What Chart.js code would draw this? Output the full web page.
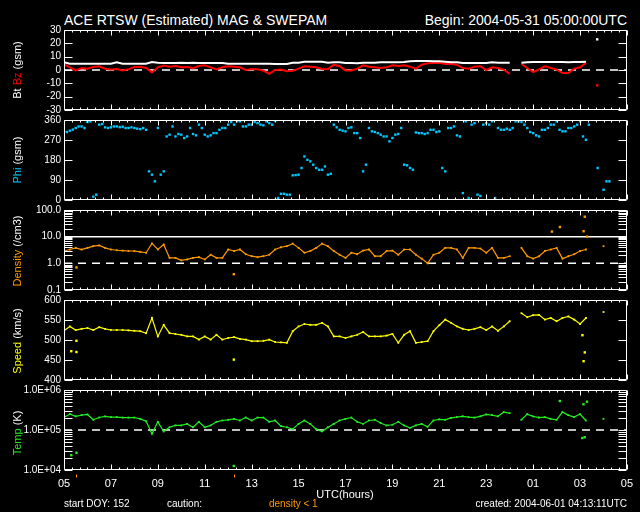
<!DOCTYPE html>
<html>
<head>
<meta charset="utf-8">
<script src="https://cdn.jsdelivr.net/npm/chart.js@4.4.1/dist/chart.umd.min.js"></script>
<style>
  body { margin: 0; background: #000; width: 640px; height: 512px; overflow: hidden; position: relative; font-family: "Liberation Sans", sans-serif; color: #fff; }
  canvas { position: absolute; left: 0; }
  .txt { position: absolute; white-space: nowrap; line-height: 1; }
  .ytitle { position: absolute; left: 17px; white-space: nowrap; font-size: 11px; line-height: 1; transform: translate(-50%, -50%) rotate(-90deg); }
</style>
</head>
<body>
<div class="txt" style="left:64px;top:13px;font-size:14px">ACE RTSW (Estimated) MAG &amp; SWEPAM</div>
<div class="txt" style="right:13px;top:13px;font-size:14px">Begin: 2004-05-31 05:00:00UTC</div>

<canvas id="pMag" width="640" height="100" style="top:20px"></canvas>
<canvas id="pPhi" width="640" height="100" style="top:110px"></canvas>
<canvas id="pDens" width="640" height="100" style="top:200px"></canvas>
<canvas id="pSpeed" width="640" height="100" style="top:290px"></canvas>
<canvas id="pTemp" width="640" height="110" style="top:380px"></canvas>

<div class="ytitle" style="top:70px">Bt <span style="color:#ff0000">Bz</span> (gsm)</div>
<div class="ytitle" style="top:160px"><span style="color:#00c8ff">Phi</span> (gsm)</div>
<div class="ytitle" style="top:251px"><span style="color:#ff9a00">Density</span> (/cm3)</div>
<div class="ytitle" style="top:341px"><span style="color:#ffff00">Speed</span> (km/s)</div>
<div class="ytitle" style="top:433px"><span style="color:#22ee22">Temp</span> (K)</div>

<div class="txt" style="left:345px;top:489px;font-size:11px;transform:translateX(-50%)">UTC(hours)</div>
<div class="txt" style="left:64px;top:499px;font-size:10px">start DOY: 152</div>
<div class="txt" style="left:167px;top:499px;font-size:10px">caution:</div>
<div class="txt" style="left:269px;top:499px;font-size:10px;color:#ff9a00">density &lt; 1</div>
<div class="txt" style="right:13px;top:499px;font-size:10px">created: 2004-06-01 04:13:11UTC</div>

<script>
// hours after 2004-05-31 05:00 UTC, one reading every 15 minutes
const hours = [
  0, 0.25, 0.5, 0.75, 1, 1.25, 1.5, 1.75, 2, 2.25, 2.5, 2.75,
  3, 3.25, 3.5, 3.75, 4, 4.25, 4.5, 4.75, 5, 5.25, 5.5, 5.75,
  6, 6.25, 6.5, 6.75, 7, 7.25, 7.5, 7.75, 8, 8.25, 8.5, 8.75,
  9, 9.25, 9.5, 9.75, 10, 10.25, 10.5, 10.75, 11, 11.25, 11.5, 11.75,
  12, 12.25, 12.5, 12.75, 13, 13.25, 13.5, 13.75, 14, 14.25, 14.5, 14.75,
  15, 15.25, 15.5, 15.75, 16, 16.25, 16.5, 16.75, 17, 17.25, 17.5, 17.75,
  18, 18.25, 18.5, 18.75, 19, 19.25, 19.5, 19.75, 20, 20.25, 20.5, 20.75,
  21, 21.25, 21.5, 21.75, 22, 22.25, 22.5, 22.75, 23, 23.25, 23.5, 23.75,
  24
];
// in-between readings (7.5 minutes later) used for the scattered phi panel
const hoursMid = [
  0.125, 0.375, 0.625, 0.875, 1.125, 1.375, 1.625, 1.875, 2.125, 2.375, 2.625, 2.875,
  3.125, 3.375, 3.625, 3.875, 4.125, 4.375, 4.625, 4.875, 5.125, 5.375, 5.625, 5.875,
  6.125, 6.375, 6.625, 6.875, 7.125, 7.375, 7.625, 7.875, 8.125, 8.375, 8.625, 8.875,
  9.125, 9.375, 9.625, 9.875, 10.125, 10.375, 10.625, 10.875, 11.125, 11.375, 11.625, 11.875,
  12.125, 12.375, 12.625, 12.875, 13.125, 13.375, 13.625, 13.875, 14.125, 14.375, 14.625, 14.875,
  15.125, 15.375, 15.625, 15.875, 16.125, 16.375, 16.625, 16.875, 17.125, 17.375, 17.625, 17.875,
  18.125, 18.375, 18.625, 18.875, 19.125, 19.375, 19.625, 19.875, 20.125, 20.375, 20.625, 20.875,
  21.125, 21.375, 21.625, 21.875, 22.125, 22.375, 22.625, 22.875, 23.125, 23.375, 23.625, 23.875
];

// nT
const bt = [
  5.75, 4.75, 4.75, 4.75, 4.75, 4.75, 4.75, 4.75, 4.75, 5.75, 4.75, 4.75,
  4.75, 4.75, 4.75, 6.0, 5.5, 5.25, 5.25, 5.25, 5.5, 5.25, 5.5, 5.25,
  5.25, 5.25, 5.25, 5.25, 4.75, 4.75, 4.75, 4.75, 4.75, 4.75, 4.75, 4.75,
  4.5, 4.5, 4.5, 5.5, 5.5, 6.25, 6.25, 6.25, 6.25, 5.5, 5.75, 5.75,
  5.25, 5.25, 5.0, 5.5, 5.5, 5.5, 5.75, 5.75, 5.75, 5.75, 6.0, 6.5,
  6.75, 6.75, 6.75, 6.5, 6.5, 6.25, 5.75, 5.75, 5.25, 5.25, 5.25, 5.25,
  5.25, 5.75, 5.5, 5.5, 5.5, null, 5.5, 5.75, 6.0, 6.0, 6.0, 6.0,
  6.0, 6.0, 5.75, 6.0, 6.0, 6.25, null, null, 5.75, null, null, null,
  null
];
const bz = [
  4.5, 2.0, -0.3, 1.5, 1.0, 2.3, 2.8, 1.0, 0.3, 0.8, -0.3, 0.5,
  2.3, 2.5, 1.5, -1.8, 2.0, 3.3, 2.5, 3.0, 2.0, 2.3, 1.3, 3.0,
  3.5, 2.0, 0.5, 2.0, 2.8, 2.5, 2.0, 0.0, 0.8, 0.5, -0.5, -2.8,
  0.0, 0.3, -1.0, -0.5, 1.0, 2.8, 2.5, 2.0, 0.8, 0.5, 4.0, 2.8,
  -0.3, -0.3, 1.0, 3.5, 2.5, 2.0, 1.5, 2.0, 3.5, 3.0, 3.5, 2.5,
  1.0, 4.0, 5.0, 5.3, 5.5, 4.5, 4.5, 4.0, 1.5, 1.0, 2.5, 2.8,
  0.0, 2.0, 1.5, 0.3, -3.0, null, 4.5, 1.5, -1.5, 0.5, 2.8, 1.5,
  0.3, -2.3, -2.3, 1.0, 2.0, 5.5, null, null, 5.3, null, null, null,
  null
];
// degrees
const phi = [
  309, 312, 324, 331, 351, 15, 339, 327, 327, 331, 330, 324,
  324, 319, 316, 114, 324, 129, 294, 286, 294, 286, 297, 339,
  294, 291, 301, 324, 339, 339, 354, 331, 339, 346, 336, 346,
  357, 28, 24, 111, 114, 196, 174, 144, 136, 114, 339, 316,
  309, 327, 301, 129, 324, 306, 294, 286, 279, 297, 159, 144,
  304, 301, 301, 316, 309, 129, 324, 291, 31, 9, 346, 18,
  346, 354, 324, 316, 316, 354, 351, 324, 301, 286, 316, 339,
  354, 309, 324, 331, 354, 271, null, 144, 46, 84, null, null,
  null
];
const phiMid = [
  306, 317, 331, 324, 354, 24, 342, 324, 331, 328, 324, 327,
  321, 324, 129, 84, 114, 286, 331, 297, 279, 324, 291, 324,
  286, 301, 316, 324, 351, 354, 331, 339, 351, 339, 354, 339,
  9, 28, 24, 112, 144, 181, 159, 136, 151, 118, 327, 312,
  324, 301, 279, 159, 309, 301, 286, 264, 294, 324, 156, 136,
  301, 297, 316, 306, 144, 324, 331, 286, 354, 339, 24, 339,
  339, 9, 316, 321, 324, 354, 339, 306, 291, 316, 324, 339,
  316, 309, 324, 339, 286, 339, null, null, 84, null, null, null
];
// p/cm3
const density = [
  2.9, 3.3, 3.8, 3.3, 3.8, 4.4, 4.7, 3.8, 3.3, 3.1, 3.0, 2.9,
  2.9, 2.7, 2.5, 5.6, 3.3, 5.1, 1.6, 1.6, 1.3, 1.4, 1.6, 1.7,
  1.4, 2.1, 1.6, 1.6, 3.3, 2.9, 3.3, 2.2, 1.85, 1.7, 1.85, 2.1,
  3.3, 4.0, 4.4, 5.5, 3.8, 2.5, 2.9, 3.8, 5.5, 4.4, 2.9, 2.1,
  1.6, 2.5, 2.2, 3.0, 3.3, 1.85, 1.85, 2.9, 3.0, 2.1, 3.3, 3.3,
  2.1, 1.5, 1.0, 2.1, 2.5, 3.8, 3.8, 3.3, 1.6, 3.8, 3.8, 3.6,
  2.5, 3.8, 1.6, 1.6, 1.85, null, 3.8, 1.85, 1.5, 1.85, 2.9, 3.3,
  3.8, 1.5, 1.85, 2.2, 2.9, 3.3, null, null, 4.4, null, null, null,
  null
];
// km/s
const speed = [
  523, 534, 525, 528, 530, 525, 532, 528, 525, 525, 525, 524,
  523, 522, 517, 555, 509, 538, 517, 515, 513, 509, 509, 501,
  509, 501, 513, 501, 505, 507, 503, 501, 497, 497, 498, 501,
  495, 494, 493, 522, 534, 540, 538, 538, 543, 534, 509, 509,
  505, 509, 513, 520, 509, 509, 509, 511, 515, 493, 513, 522,
  493, 495, 497, 522, 537, 551, 543, 534, 528, 525, 528, 532,
  525, 534, 523, 534, 547, null, 567, 557, 562, 563, 551, 555,
  547, 555, 559, 551, 540, 555, null, null, 570, null, null, null,
  null
];
// K
const temp = [
  2.05e5, 2.5e5, 2.2e5, 2.35e5, 2.45e5, 1.8e5, 2.05e5, 2.2e5, 2.1e5, 2.1e5, 2.05e5, 2.05e5,
  2.05e5, 1.9e5, 1.65e5, 8.0e4, 1.6e5, 9.2e4, 1.17e5, 1.3e5, 1.3e5, 1.42e5, 1.17e5, 1.6e5,
  1.17e5, 1.3e5, 1.6e5, 1.73e5, 1.8e5, 1.9e5, 1.73e5, 2.05e5, 1.73e5, 2.05e5, 2.05e5, 1.6e5,
  1.73e5, 1.25e5, 1.17e5, 1.05e5, 1.42e5, 1.73e5, 1.42e5, 1.05e5, 9.2e4, 1.17e5, 1.42e5, 1.73e5,
  1.9e5, 2.05e5, 1.6e5, 1.42e5, 1.73e5, 1.8e5, 1.5e5, 1.3e5, 1.35e5, 1.6e5, 1.3e5, 1.13e5,
  1.3e5, 1.42e5, 1.2e5, 1.73e5, 1.85e5, 1.8e5, 2.0e5, 2.1e5, 2.2e5, 2.1e5, 2.05e5, 2.2e5,
  2.45e5, 2.35e5, 2.2e5, 2.8e5, 2.65e5, null, 1.8e5, 2.5e5, 2.2e5, 2.05e5, 2.1e5, 1.9e5,
  1.8e5, 2.8e5, 2.35e5, 2.1e5, 2.5e5, 1.73e5, null, null, 1.9e5, null, null, null,
  null
];

// isolated readings away from the main track
const btSpikeHours = [22.73];
const btSpikeValues = [23];
const bzSpikeHours = [22.73];
const bzSpikeValues = [-11.5];
const densSpikeHours = [0.53, 7.24, 20.8, 21.14, 22.15, 22.2, 22.3];
const densSpikeValues = [0.7, 0.39, 15.5, 23, 16, 56, 10];
const speedSpikeHours = [0.31, 0.53, 0.53, 7.24, 22.1, 22.15, 22.2];
const speedSpikeValues = [472, 470, 498, 451, 512, 447, 469];
const tempSpikeHours = [0.31, 0.53, 7.24, 21.14, 22.1, 22.15, 22.2, 22.3];
const tempSpikeValues = [2.35e4, 2.7e4, 1.26e4, 5.3e5, 6.3e4, 4.4e5, 6.6e4, 5.1e5];

// axes
const xTickHours = [0, 2, 4, 6, 8, 10, 12, 14, 16, 18, 20, 22, 24];
const xTickLabels = ["05", "07", "09", "11", "13", "15", "17", "19", "21", "23", "01", "03", "05"];
const magTicks = [-30, -20, -10, 0, 10, 20, 30];
const phiTicks = [0, 90, 180, 270, 360];
const densTicks = [0.1, 1, 10, 100];
const densTickLabels = ["0.1", "1.0", "10.0", "100.0"];
const speedTicks = [400, 450, 500, 550, 600];
const tempTicks = [1e4, 1e5, 1e6];
const tempTickLabels = ["1.0E+04", "1.0E+05", "1.0E+06"];

// reference lines
const magDashed = 0;
const densSolid = 10;
const densDashed = 1;
const tempDashed = 1e5;

const FONT = "Liberation Sans";

function series(vals, hs) {
  return (hs || hours).map((h, i) => ({ x: h, y: vals[i] }));
}
function spikes(hs, vs) {
  return hs.map((h, i) => ({ x: h, y: vs[i] }));
}
function dots(data, color) {
  return { data: data, backgroundColor: color, borderWidth: 0, pointRadius: 1.7, pointStyle: "rect", order: 1 };
}
function trace(data, color, width, radius) {
  return {
    data: data, borderColor: color, backgroundColor: color, borderWidth: width,
    showLine: true, spanGaps: false, pointRadius: radius || 0, pointStyle: "rect", pointBorderWidth: 0, order: 1
  };
}
function refLine(v, dashed) {
  return {
    data: [{ x: 0, y: v }, { x: 24, y: v }],
    borderColor: "#fff", borderWidth: 1.5, borderDash: dashed ? [8, 6] : [],
    showLine: true, pointRadius: 0, order: 5
  };
}
function logMinor(ticks) {
  const out = [];
  for (let i = 0; i < ticks.length - 1; i++) {
    for (let m = 2; m <= 9; m++) out.push(ticks[i] * m);
  }
  return out;
}

// IDL style box: inward ticks on all four sides
const idlFrame = {
  id: "idlFrame",
  afterDatasetsDraw(chart, args, opts) {
    const { ctx, chartArea: a } = chart;
    const xs = chart.scales.x, ys = chart.scales.y;
    const L = Math.round(a.left) + 0.5, R = Math.round(a.right) - 0.5;
    const T = Math.round(a.top) + 0.5, B = Math.round(a.bottom) - 0.5;
    ctx.save();
    ctx.strokeStyle = "#fff";
    ctx.lineWidth = 1;
    ctx.beginPath();
    ctx.rect(L, T, R - L, B - T);
    for (let k = 0; k <= 72; k++) {
      const px = Math.round(xs.getPixelForValue(k / 3)) + 0.5;
      const len = k % 6 === 0 ? 5 : 2;
      ctx.moveTo(px, T); ctx.lineTo(px, T + len);
      ctx.moveTo(px, B); ctx.lineTo(px, B - len);
    }
    opts.yTicks.concat(opts.yMinor || []).forEach(v => {
      const py = Math.round(ys.getPixelForValue(v)) + 0.5;
      ctx.moveTo(L, py); ctx.lineTo(L + 8, py);
      ctx.moveTo(R, py); ctx.lineTo(R - 8, py);
    });
    ctx.stroke();
    if (opts.marks) {
      ctx.strokeStyle = "#ff9a00";
      ctx.beginPath();
      opts.marks.forEach(h => {
        const px = Math.round(xs.getPixelForValue(h)) + 0.5;
        ctx.moveTo(px, B + 5); ctx.lineTo(px, B + 8);
      });
      ctx.stroke();
    }
    ctx.restore();
  }
};

function makePanel(id, p) {
  const xOpts = { type: "linear", min: 0, max: 24, display: !!p.last };
  if (p.last) {
    Object.assign(xOpts, {
      grid: { display: false, drawTicks: false }, border: { display: false },
      afterFit: s => { s.height = 20; },
      afterBuildTicks: s => { s.ticks = xTickHours.map(v => ({ value: v })); },
      ticks: { color: "#fff", font: { family: FONT, size: 11 }, padding: 7, autoSkip: false, maxRotation: 0,
        callback: (v, i) => xTickLabels[i] }
    });
  }
  return new Chart(document.getElementById(id), {
    type: "scatter",
    data: { datasets: p.datasets },
    options: {
      responsive: false, animation: false, events: [],
      layout: { padding: { top: 10, bottom: p.last ? 0 : 10, left: 0, right: 13 } },
      plugins: {
        legend: { display: false }, tooltip: { enabled: false },
        idlFrame: { yTicks: p.ticks, yMinor: p.minor, marks: p.marks }
      },
      scales: {
        x: xOpts,
        y: {
          type: p.log ? "logarithmic" : "linear", min: p.min, max: p.max,
          grid: { display: false, drawTicks: false }, border: { display: false },
          afterFit: s => { s.width = 64; },
          afterBuildTicks: s => { s.ticks = p.ticks.map(v => ({ value: v })); },
          ticks: { color: "#fff", font: { family: FONT, size: 10 }, padding: 3, autoSkip: false,
            callback: (v, i) => p.labels ? p.labels[i] : String(p.ticks[i]) }
        }
      }
    },
    plugins: [idlFrame]
  });
}

makePanel("pMag", {
  min: -30, max: 30, ticks: magTicks,
  datasets: [
    refLine(magDashed, true),
    trace(series(bt), "#ffffff", 2),
    trace(series(bz), "#ff0000", 2),
    dots(spikes(btSpikeHours, btSpikeValues), "#ffffff"),
    dots(spikes(bzSpikeHours, bzSpikeValues), "#ff0000")
  ]
});
makePanel("pPhi", {
  min: 0, max: 360, ticks: phiTicks,
  datasets: [
    dots(series(phi), "#00c8ff"),
    dots(series(phiMid, hoursMid), "#00c8ff")
  ]
});
makePanel("pDens", {
  log: true, min: 0.1, max: 100, ticks: densTicks, labels: densTickLabels, minor: logMinor(densTicks),
  datasets: [
    refLine(densSolid, false),
    refLine(densDashed, true),
    trace(series(density), "#ff9a00", 1.2, 1.3),
    dots(spikes(densSpikeHours, densSpikeValues), "#ff9a00")
  ]
});
makePanel("pSpeed", {
  min: 400, max: 600, ticks: speedTicks,
  datasets: [
    trace(series(speed), "#ffff00", 1.2, 1.3),
    dots(spikes(speedSpikeHours, speedSpikeValues), "#ffff00")
  ]
});
makePanel("pTemp", {
  last: true, log: true, min: 1e4, max: 1e6, ticks: tempTicks, labels: tempTickLabels, minor: logMinor(tempTicks),
  marks: densSpikeHours.filter((h, i) => densSpikeValues[i] < 1),
  datasets: [
    refLine(tempDashed, true),
    trace(series(temp), "#22ee22", 1.2, 1.3),
    dots(spikes(tempSpikeHours, tempSpikeValues), "#22ee22")
  ]
});
</script>
</body>
</html>
